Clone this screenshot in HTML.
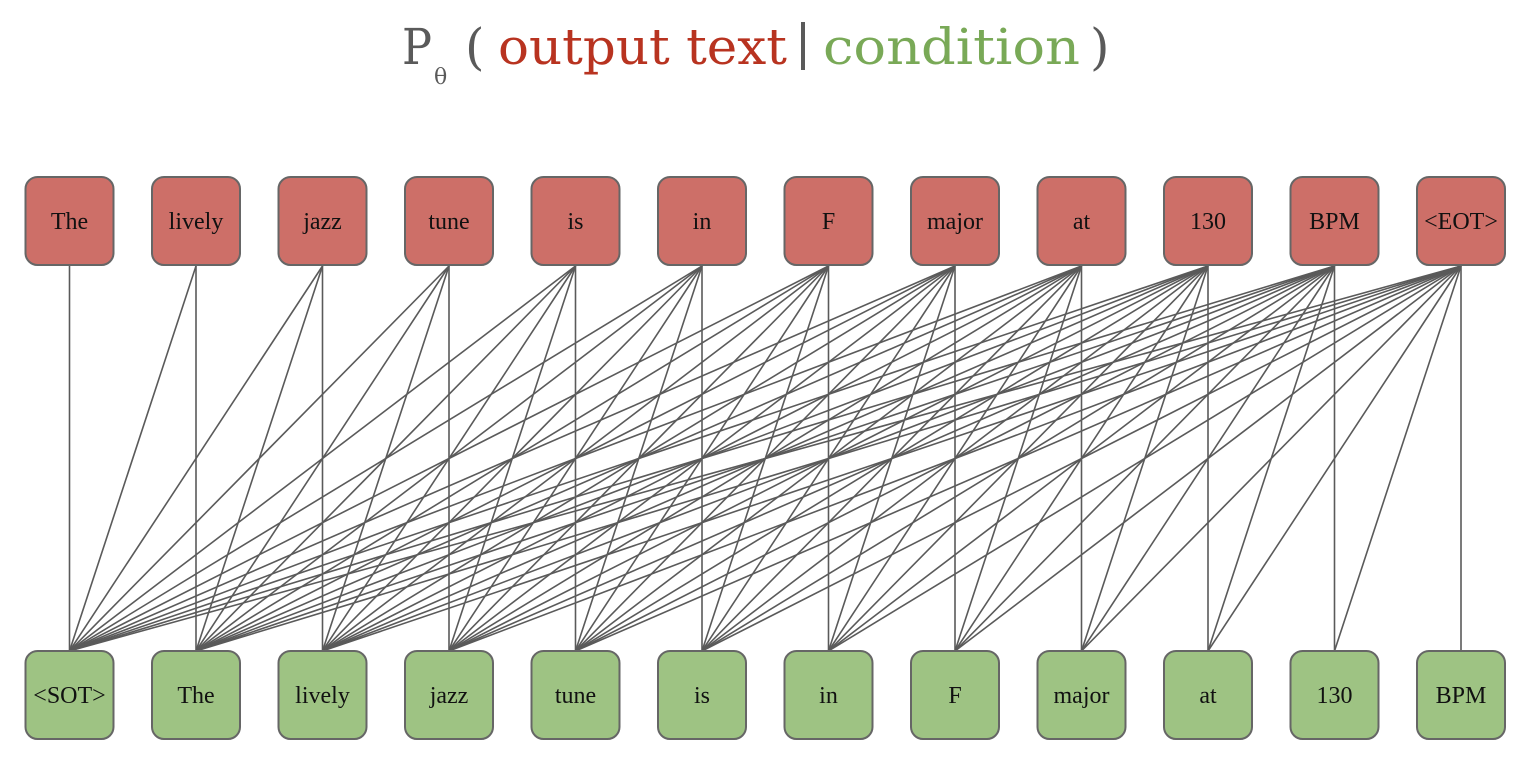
<!DOCTYPE html>
<html><head><meta charset="utf-8"><style>
html,body{margin:0;padding:0;background:#fff;}
svg{display:block}
</style></head><body>
<svg id="s" width="1526" height="760" viewBox="0 0 1526 760" xmlns="http://www.w3.org/2000/svg">
<g id="lines" stroke="#5a5a5a" stroke-width="1.6"></g>
<g font-family="DejaVu Serif, Liberation Serif, serif" font-size="50">
<text x="402" y="64" fill="#5a5a5a" textLength="30" lengthAdjust="spacingAndGlyphs">P</text>
<text x="434" y="84" fill="#5a5a5a" font-size="22">θ</text>
<text x="465" y="64" fill="#5a5a5a">(</text>
<text x="498" y="64" fill="#b83320" textLength="289" lengthAdjust="spacingAndGlyphs">output text</text>
<rect x="801" y="22" width="4" height="48" fill="#5a5a5a"/>
<text x="823" y="64" fill="#79a957" textLength="257" lengthAdjust="spacingAndGlyphs">condition</text>
<text x="1090" y="64" fill="#5a5a5a">)</text>
</g>
<g id="boxes" stroke="#666" stroke-width="2"></g>
<g font-family="Liberation Serif, serif" font-size="24" text-anchor="middle" fill="#111">
<text x="69.5" y="229">The</text>
<text x="196" y="229">lively</text>
<text x="322.5" y="229">jazz</text>
<text x="449" y="229">tune</text>
<text x="575.5" y="229">is</text>
<text x="702" y="229">in</text>
<text x="828.5" y="229">F</text>
<text x="955" y="229">major</text>
<text x="1081.5" y="229">at</text>
<text x="1208" y="229">130</text>
<text x="1334.5" y="229">BPM</text>
<text x="1461" y="229">&lt;EOT&gt;</text>
<text x="69.5" y="703">&lt;SOT&gt;</text>
<text x="196" y="703">The</text>
<text x="322.5" y="703">lively</text>
<text x="449" y="703">jazz</text>
<text x="575.5" y="703">tune</text>
<text x="702" y="703">is</text>
<text x="828.5" y="703">in</text>
<text x="955" y="703">F</text>
<text x="1081.5" y="703">major</text>
<text x="1208" y="703">at</text>
<text x="1334.5" y="703">130</text>
<text x="1461" y="703">BPM</text>
</g>
</svg>
<script>
var ns="http://www.w3.org/2000/svg";
var L=document.getElementById("lines"),B=document.getElementById("boxes");
function cx(i){return 69.5+i*126.5;}
for(var i=0;i<12;i++){for(var j=0;j<=i;j++){var l=document.createElementNS(ns,"line");
l.setAttribute("x1",cx(i));l.setAttribute("y1",266);l.setAttribute("x2",cx(j));l.setAttribute("y2",651);L.appendChild(l);}}
for(var i=0;i<12;i++){[[177,"#cd6f68"],[651,"#9ec383"]].forEach(function(p){var r=document.createElementNS(ns,"rect");
r.setAttribute("x",cx(i)-44);r.setAttribute("y",p[0]);r.setAttribute("width",88);r.setAttribute("height",88);
r.setAttribute("rx",12);r.setAttribute("fill",p[1]);B.appendChild(r);});}
</script>
</body></html>
